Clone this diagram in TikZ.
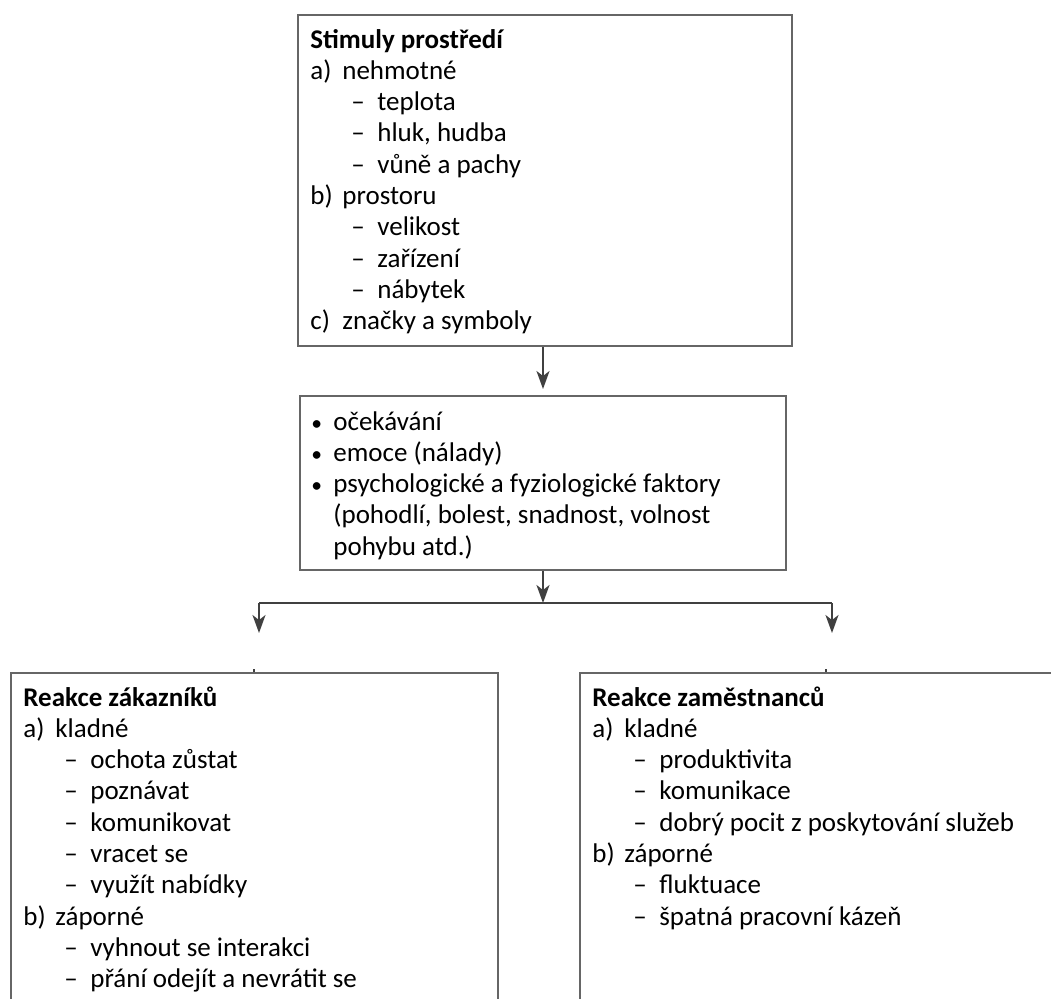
\documentclass[tikz,border=0pt]{standalone}
\usepackage{fontspec}
\setmainfont{Carlito}
\usetikzlibrary{arrows.meta}
\newcommand{\abl}[2]{\makebox[16pt][l]{#1}#2\par}
\newcommand{\dln}[1]{\hspace*{20.5pt}\makebox[13pt][l]{–}#1\par}
\newcommand{\bln}[1]{\makebox[11pt][l]{\scalebox{0.8}{•}}#1\par}
\newcommand{\cln}[1]{\hspace*{11pt}#1\par}
\begin{document}
\begin{tikzpicture}[x=0.5pt,y=-0.5pt,
  boxst/.style={draw=black!60, line width=1pt, anchor=north west, inner sep=0pt},
  txt/.style={anchor=base west, inner sep=0pt, font=\fontsize{13.5pt}{15.65pt}\selectfont},
  conn/.style={draw=black!75, line width=0.9pt},
  arr/.style={conn, -{Stealth[length=9pt,width=6.5pt,inset=2.5pt]}}]
\useasboundingbox (0,0) rectangle (1051,998);
\clip (0,0) rectangle (1051,998);
% boxes
\node[boxst, minimum width=247pt, minimum height=165.5pt] (top) at (297,14) {};
\node[boxst, minimum width=243pt, minimum height=87pt] (mid) at (299,395) {};
\node[boxst, minimum width=243.5pt, minimum height=180pt] (left) at (10,672) {};
\node[boxst, minimum width=260pt, minimum height=180pt] (right) at (579,672) {};
% texts
\node[txt] (toptext) at (310,48) {\parbox[t]{240pt}{%
\textbf{Stimuly prostředí}\par
\abl{a)}{nehmotné}
\dln{teplota}
\dln{hluk, hudba}
\dln{vůně a pachy}
\abl{b)}{prostoru}
\dln{velikost}
\dln{zařízení}
\dln{nábytek}
\abl{c)}{značky a symboly}}};
\node[txt] (midtext) at (311,430) {\parbox[t]{235pt}{%
\bln{očekávání}
\bln{emoce (nálady)}
\bln{psychologické a fyziologické faktory}
\cln{(pohodlí, bolest, snadnost, volnost}
\cln{pohybu atd.)}}};
\node[txt] (lefttext) at (23,706) {\parbox[t]{235pt}{%
\textbf{Reakce zákazníků}\par
\abl{a)}{kladné}
\dln{ochota zůstat}
\dln{poznávat}
\dln{komunikovat}
\dln{vracet se}
\dln{využít nabídky}
\abl{b)}{záporné}
\dln{vyhnout se interakci}
\dln{přání odejít a nevrátit se}}};
\node[txt] (righttext) at (592,706) {\parbox[t]{235pt}{%
\textbf{Reakce zaměstnanců}\par
\abl{a)}{kladné}
\dln{produktivita}
\dln{komunikace}
\dln{dobrý pocit z poskytování služeb}
\abl{b)}{záporné}
\dln{fluktuace}
\dln{špatná pracovní kázeň}}};
% connectors
\coordinate (j) at (543,603);
\coordinate (jL) at (259,603);
\coordinate (jR) at (832,603);
\coordinate (tL) at (259,633);
\coordinate (tR) at (832,633);
\coordinate (kL) at (254,669);
\coordinate (kR) at (826,669);
\draw[arr, shorten >=3pt] (top.south -| j) -- (mid.north -| j);
\draw[arr] (mid.south -| j) -- (j);
\draw[conn] (jL) -- (jR);
\draw[arr] (jL) -- (tL);
\draw[arr] (jR) -- (tR);
\draw[conn, line width=0.7pt] (kL) -- (kL |- left.north);
\draw[conn, line width=0.7pt] (kR) -- (kR |- right.north);
\end{tikzpicture}
\end{document}
